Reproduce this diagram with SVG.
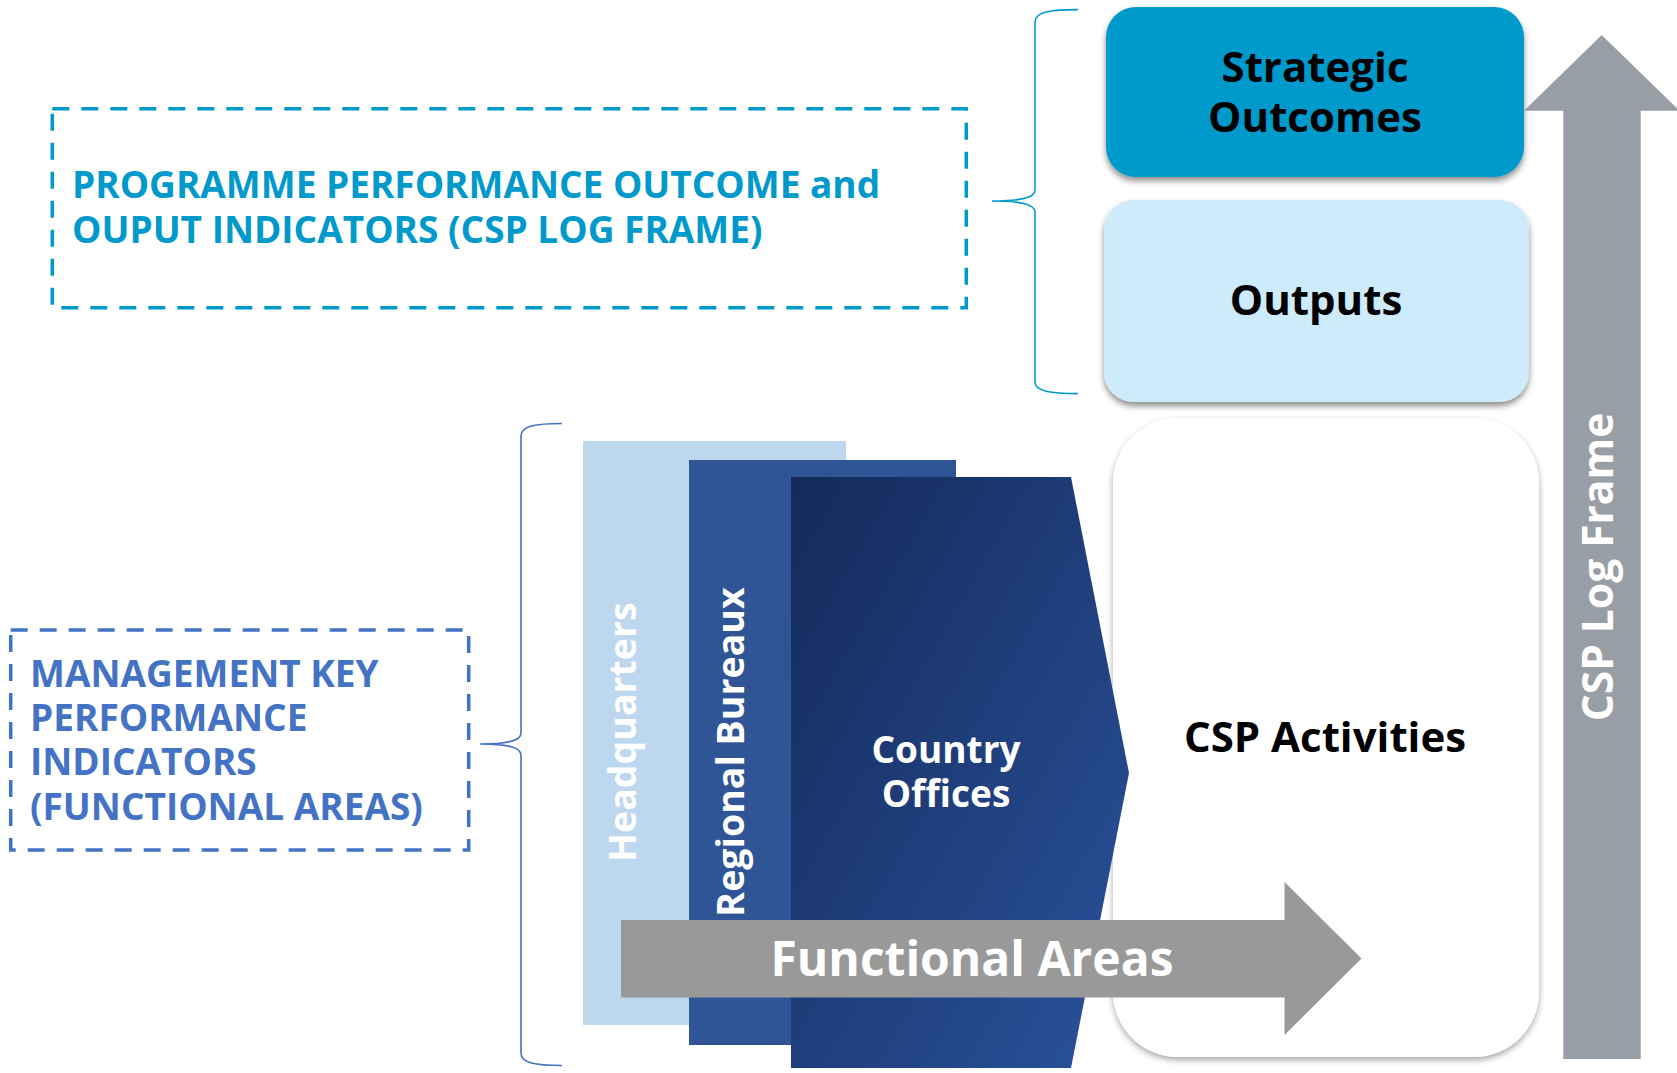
<svg xmlns="http://www.w3.org/2000/svg" width="1677" height="1073" viewBox="0 0 1677 1073">
<style>
text{font-family:"Open Sans","Noto Sans","Liberation Sans",sans-serif;font-weight:700;}
.prog{fill:#0099CC;font-size:37px;}
.mgmt{fill:#4472C4;font-size:37px;}
.dashP{fill:none;stroke:#0099CC;stroke-width:3.5;stroke-dasharray:17 12;}
.dashM{fill:none;stroke:#4472C4;stroke-width:3.5;stroke-dasharray:17 12;}
.brace{fill:none;stroke-width:1.6;}
.dark{fill:#000;font-size:42px;text-anchor:middle;}
.white{fill:#fff;text-anchor:middle;}
</style>
<defs>
<filter id="sh" x="-10%" y="-10%" width="120%" height="125%">
<feDropShadow dx="0" dy="4" stdDeviation="3" flood-color="#000" flood-opacity="0.45"/>
</filter>
<filter id="sh2" x="-10%" y="-10%" width="120%" height="120%">
<feDropShadow dx="0" dy="3" stdDeviation="3" flood-color="#000" flood-opacity="0.35"/>
</filter>
<linearGradient id="coGrad" x1="0" y1="0" x2="1" y2="1">
<stop offset="0" stop-color="#142A5A"/>
<stop offset="1" stop-color="#2A529C"/>
</linearGradient>
</defs>
<rect width="1677" height="1073" fill="#fff"/>

<g id="connectors">
<path class="brace" stroke="#0099CC" d="M1078 9.6 C1050 9.6 1035 12 1035 22 L1035 190 C1035 198 1020 201 992 201 C1020 201 1035 204 1035 212 L1035 382 C1035 391 1050 393.6 1078 393.6"/>
<path class="brace" stroke="#4472C4" d="M562 423.5 C535 423.5 521 426 521 436 L521 733 C521 741 507 744 480 744 C507 744 521 747 521 755 L521 1053 C521 1063 535 1065.5 562 1065.5"/>
</g>

<g id="programme-indicators">
<rect class="dashP" x="52.3" y="108.7" width="914" height="199"/>
<text class="prog" x="72" y="198">PROGRAMME PERFORMANCE OUTCOME and</text>
<text class="prog" x="72" y="243">OUPUT INDICATORS (CSP LOG FRAME)</text>
</g>

<g id="management-kpi">
<rect class="dashM" x="10.7" y="630" width="458" height="220"/>
<text class="mgmt" x="30" y="687">MANAGEMENT KEY</text>
<text class="mgmt" x="30" y="731">PERFORMANCE</text>
<text class="mgmt" x="30" y="775">INDICATORS</text>
<text class="mgmt" x="30" y="820">(FUNCTIONAL AREAS)</text>
</g>

<g id="strategic-outcomes">
<rect x="1106" y="7" width="418" height="170" rx="30" fill="#0099CC" filter="url(#sh)"/>
<text class="dark" x="1315" y="82">Strategic</text>
<text class="dark" x="1315" y="132">Outcomes</text>
</g>

<g id="outputs">
<rect x="1104" y="200" width="425" height="202" rx="30" fill="#CDEBFB" filter="url(#sh)"/>
<text class="dark" x="1316" y="315">Outputs</text>
</g>

<g id="headquarters">
<rect x="583" y="441" width="263" height="584" fill="#BDD7EE"/>
<text class="white" font-size="37.5" transform="translate(636,732) rotate(-90)">Headquarters</text>
</g>

<g id="regional-bureaux">
<rect x="689" y="460" width="267" height="585" fill="#2F5597"/>
<text class="white" font-size="37.5" transform="translate(744,752) rotate(-90)">Regional Bureaux</text>
</g>

<g id="csp-activities">
<rect x="1113" y="418" width="426" height="639" rx="65" fill="#fff" filter="url(#sh2)"/>
<text class="dark" x="1325" y="752">CSP Activities</text>
</g>

<g id="country-offices">
<path d="M791 477 L1071 477 L1129 773 L1071 1068 L791 1068 Z" fill="url(#coGrad)"/>
<text class="white" font-size="37" x="946" y="763">Country</text>
<text class="white" font-size="37" x="946" y="807">Offices</text>
</g>

<g id="functional-areas">
<path d="M621 920 L1284.5 920 L1284.5 882 L1361.5 958.5 L1284.5 1035 L1284.5 997.5 L621 997.5 Z" fill="#999999"/>
<text class="white" font-size="48" x="972" y="976">Functional Areas</text>
</g>

<g id="csp-log-frame">
<path d="M1563.3 1059 L1563.3 110.7 L1524 110.7 L1601.7 35 L1679.4 110.7 L1640.7 110.7 L1640.7 1059 Z" fill="#989EA6"/>
<text class="white" font-size="42.5" transform="translate(1613,567) rotate(-90)">CSP Log Frame</text>
</g>
</svg>
